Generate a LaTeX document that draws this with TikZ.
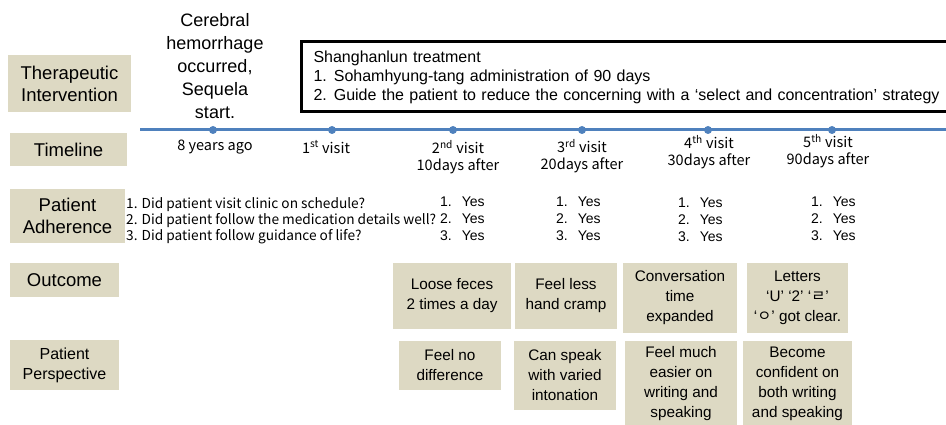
\documentclass[tikz,border=0pt]{standalone}
\usepackage{fontspec}
\setmainfont{Liberation Sans}
\newfontfamily\krfont{Noto Sans CJK KR}
\definecolor{boxtan}{HTML}{DDD9C3}
\definecolor{lineblue}{HTML}{4F81BD}
\tikzset{
  headbox/.style={fill=boxtan, align=center, inner sep=0pt, font=\fontsize{18.5}{22}\selectfont},
  resbox/.style={fill=boxtan, align=center, inner sep=0pt, font=\fontsize{15.3}{20}\selectfont},
  visitlabel/.style={align=center, inner sep=0pt, font=\krfont\fontsize{14.5}{17}\selectfont},
  visitdot/.style={circle, fill=lineblue, inner sep=0pt, minimum size=8pt},
  yeslist/.style={inner sep=0pt, font=\fontsize{14}{17}\selectfont}
}
\begin{document}
\begin{tikzpicture}[x=1pt, y=-1pt]
  \useasboundingbox (0,0) rectangle (946,425);
  \def\yes{\begin{tabular}{@{}l@{\hspace{10pt}}l@{}}1.&Yes\\2.&Yes\\3.&Yes\end{tabular}}

  % row heads
  \node[headbox, minimum width=123, minimum height=57] (hint) at (69.5,83.5) {Therapeutic\\Intervention};
  \node[headbox, minimum width=117, minimum height=33] (htime) at (68.5,149.5) {Timeline};
  \node[headbox, minimum width=115, minimum height=54] (hadh) at (67.5,216) {Patient\\Adherence};
  \node[headbox, minimum width=109, minimum height=34] (hout) at (64.5,280) {Outcome};
  \node[headbox, font=\fontsize{16}{20}\selectfont, minimum width=109, minimum height=50] (hper) at (64.5,365) {Patient\\Perspective};

  % intervention
  \node[align=center, inner sep=0pt, font=\fontsize{18}{23}\selectfont] (onset) at (215,66) {Cerebral\\hemorrhage\\occurred,\\Sequela\\start.};
  \node[draw, line width=3pt, anchor=west, text width=670pt, inner xsep=12pt, inner ysep=0pt,
        minimum height=70, align=left, font=\fontsize{16}{19}\selectfont] (treat) at (300,77)
    {Shanghanlun treatment\\
     1.\hspace{7pt}Sohamhyung-tang administration of 90 days\\
     2.\hspace{7pt}Guide the patient to reduce the concerning with a `select and concentration' strategy};

  % timeline
  \coordinate (tl0) at (140,130);
  \coordinate (tl1) at (948,130);
  \draw[lineblue, line width=3pt] (tl0) -- (tl1);
  \node[visitdot] (d0) at (213,130) {};
  \node[visitdot] (d1) at (332,130) {};
  \node[visitdot] (d2) at (453,130) {};
  \node[visitdot] (d3) at (582,130) {};
  \node[visitdot] (d4) at (708,130) {};
  \node[visitdot] (d5) at (832,130) {};
  \node[visitlabel] (v0) at (215,147) {8 years ago};
  \node[visitlabel] (v1) at (326,147) {1\textsuperscript{st} visit};
  \node[visitlabel] (v2) at (458,157) {2\textsuperscript{nd} visit\\10days after};
  \node[visitlabel] (v3) at (582,156) {3\textsuperscript{rd} visit\\20days after};
  \node[visitlabel] (v4) at (709,152) {4\textsuperscript{th} visit\\30days after};
  \node[visitlabel] (v5) at (828,151) {5\textsuperscript{th} visit\\90days after};

  % adherence
  \node[visitlabel, align=left, anchor=west, font=\krfont\fontsize{13.7}{16}\selectfont] (ask) at (126,221)
    {1. Did patient visit clinic on schedule?\\
     2. Did patient follow the medication details well?\\
     3. Did patient follow guidance of life?};
  \node[yeslist, anchor=west] (y2) at (440,220) {\yes};
  \node[yeslist, anchor=west] (y3) at (556,220) {\yes};
  \node[yeslist, anchor=west] (y4) at (678,221) {\yes};
  \node[yeslist, anchor=west] (y5) at (811,220) {\yes};

  % outcome
  \node[resbox, minimum width=118, minimum height=66] (o2) at (452,296) {Loose feces\\2 times a day};
  \node[resbox, minimum width=102, minimum height=66] (o3) at (566,296) {Feel less\\hand cramp};
  \node[resbox, minimum width=114, minimum height=70] (o4) at (680,298) {Conversation\\time\\expanded};
  \node[resbox, minimum width=101, minimum height=70] (o5) at (797.5,298)
    {Letters\\`U' `2' `{\krfont ㄹ}'\\`{\krfont ㅇ}' got clear.};

  % perspective
  \node[resbox, minimum width=102, minimum height=49] (p2) at (450,365.5) {Feel no\\difference};
  \node[resbox, minimum width=102, minimum height=69] (p3) at (565,375.5) {Can speak\\with varied\\intonation};
  \node[resbox, minimum width=112, minimum height=86] (p4) at (681,384) {Feel much\\easier on\\writing and\\speaking};
  \node[resbox, minimum width=109, minimum height=86] (p5) at (797.5,384) {Become\\confident on\\both writing\\and speaking};
\end{tikzpicture}
\end{document}
